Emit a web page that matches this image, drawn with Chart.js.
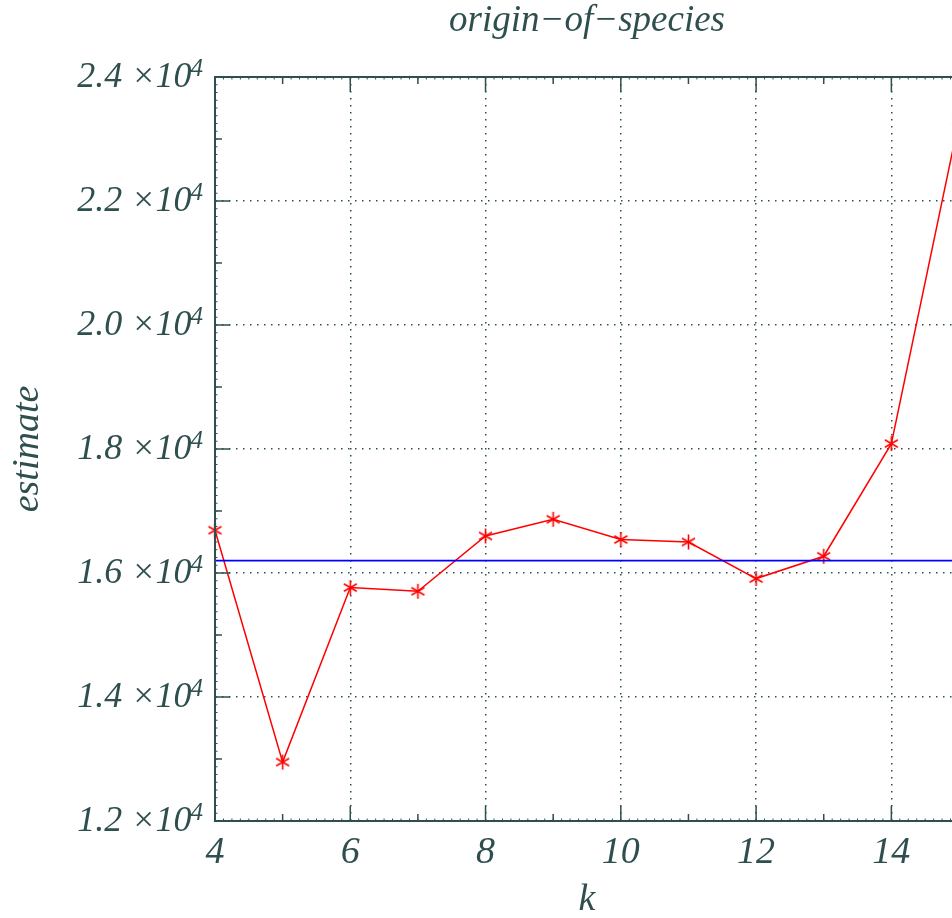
<!DOCTYPE html>
<html>
<head>
<meta charset="utf-8">
<script src="https://cdn.jsdelivr.net/npm/chart.js@4.4.1/dist/chart.umd.min.js"></script>
<style>
  html, body { margin: 0; padding: 0; background: #fff; overflow: hidden; }
  #wrap { width: 1000px; height: 918px; }
</style>
</head>
<body>
<div id="wrap"><canvas id="chart" width="1000" height="918"></canvas></div>
<script>
// origin-of-species : estimate against k (plot runs a little past the window on the right)
const kValues = [4, 5, 6, 7, 8, 9, 10, 11, 12, 13, 14, 15];
const estimates = [16690, 12950, 15765, 15705, 16597, 16866, 16540, 16500, 15910, 16270, 18087, 23300];
const referenceK = [4, 15];
const referenceLevel = [16200, 16200];

const xTicks = [4, 6, 8, 10, 12, 14];
const xTickLabels = ['4', '6', '8', '10', '12', '14'];
const yTicks = [12000, 14000, 16000, 18000, 20000, 22000, 24000];
const yTickMantissa = ['1.2', '1.4', '1.6', '1.8', '2.0', '2.2', '2.4'];
const yTickExponent = '4';

const titleText = 'origin\u2212of\u2212species';
const xTitle = 'k';
const yTitle = 'estimate';

const axisColor = '#2f4f4f';
const serif = '"Liberation Serif", "Times New Roman", serif';

// gnuplot-like six armed asterisk
const makeAsterisk = (r, color) => {
  const c = document.createElement('canvas');
  const s = Math.ceil(r * 2 + 4);
  c.width = s; c.height = s;
  const g = c.getContext('2d');
  g.strokeStyle = color;
  g.lineWidth = 1.6;
  g.translate(s / 2, s / 2);
  for (let i = 0; i < 3; i++) {
    const a = Math.PI / 2 + i * Math.PI / 3;
    g.beginPath();
    g.moveTo(-r * Math.cos(a), -r * Math.sin(a));
    g.lineTo(r * Math.cos(a), r * Math.sin(a));
    g.stroke();
  }
  return c;
};

// frame, tick marks and all the text
const axisFrame = {
  id: 'axisFrame',
  afterDatasetsDraw(chart) {
    const { ctx, chartArea: a, scales: { x, y } } = chart;
    ctx.save();
    ctx.strokeStyle = axisColor;
    ctx.fillStyle = axisColor;

    // minor / medium / major ticks
    const tick = (px, len, w, vertical) => {
      ctx.lineWidth = w;
      ctx.beginPath();
      if (vertical) {
        ctx.moveTo(px, a.bottom); ctx.lineTo(px, a.bottom - len);
        ctx.moveTo(px, a.top); ctx.lineTo(px, a.top + len);
      } else {
        ctx.moveTo(a.left, px); ctx.lineTo(a.left + len, px);
      }
      ctx.stroke();
    };
    for (let v = x.min; v <= x.max + 1e-9; v += 0.125) tick(x.getPixelForValue(v), 2.5, 1, true);
    for (let v = 5; v <= x.max; v += 2) tick(x.getPixelForValue(v), 7, 1.5, true);
    xTicks.forEach(v => tick(x.getPixelForValue(v), 15, 1.5, true));
    for (let v = y.min; v <= y.max + 1e-9; v += 125) tick(y.getPixelForValue(v), 2.5, 1, false);
    for (let v = 13000; v < y.max; v += 2000) tick(y.getPixelForValue(v), 7, 1.5, false);
    yTicks.forEach(v => tick(y.getPixelForValue(v), 15, 1.5, false));

    ctx.lineWidth = 2;
    ctx.strokeRect(a.left, a.top, a.right - a.left, a.bottom - a.top);

    // x tick labels
    ctx.font = 'italic 38px ' + serif;
    ctx.textAlign = 'center';
    ctx.textBaseline = 'alphabetic';
    xTicks.forEach((v, i) => ctx.fillText(xTickLabels[i], x.getPixelForValue(v), 863));

    // y tick labels: mantissa ×10 with superscript exponent
    yTicks.forEach((v, i) => {
      const py = y.getPixelForValue(v);
      ctx.font = 'italic 25px ' + serif;
      const supW = ctx.measureText(yTickExponent).width;
      ctx.textAlign = 'right';
      ctx.fillText(yTickExponent, 203, py - 1);
      ctx.font = 'italic 36px ' + serif;
      ctx.fillText(yTickMantissa[i] + ' \u00d710', 203 - supW + 1, py + 10);
    });

    // titles
    const cx = (a.left + a.right) / 2;
    ctx.textAlign = 'center';
    ctx.font = 'italic 37px ' + serif;
    ctx.fillText(titleText, cx, 31);
    ctx.font = 'italic 38px ' + serif;
    ctx.fillText(xTitle, cx, 910);
    ctx.translate(38, (a.top + a.bottom) / 2);
    ctx.rotate(-Math.PI / 2);
    ctx.fillText(yTitle, 0, 0);
    ctx.restore();
  }
};

const ctx = document.getElementById('chart').getContext('2d');
new Chart(ctx, {
  type: 'line',
  data: {
    datasets: [
      {
        label: 'reference',
        data: referenceK.map((k, i) => ({ x: k, y: referenceLevel[i] })),
        borderColor: '#0000ff',
        borderWidth: 1.8,
        pointRadius: 0,
        clip: false
      },
      {
        label: 'estimate',
        data: kValues.map((k, i) => ({ x: k, y: estimates[i] })),
        borderColor: '#ff0000',
        borderWidth: 1.5,
        pointStyle: makeAsterisk(7.5, '#ff0000'),
        pointRadius: 7,
        tension: 0,
        clip: false
      }
    ]
  },
  options: {
    responsive: false,
    devicePixelRatio: 1,
    animation: false,
    layout: { padding: { left: 215, top: 77, right: 41, bottom: 97 } },
    plugins: { legend: { display: false }, tooltip: { enabled: false } },
    scales: {
      x: {
        type: 'linear',
        min: 4,
        max: 15,
        afterBuildTicks: s => { s.ticks = xTicks.map(v => ({ value: v })); },
        afterFit: s => { s.height = 0; },
        ticks: { display: false },
        grid: { color: axisColor, lineWidth: 1.5, drawTicks: false },
        border: { display: false, dash: [1.5, 5.5] }
      },
      y: {
        type: 'linear',
        min: 12000,
        max: 24000,
        afterBuildTicks: s => { s.ticks = yTicks.map(v => ({ value: v })); },
        afterFit: s => { s.width = 0; },
        ticks: { display: false },
        grid: { color: axisColor, lineWidth: 1.5, drawTicks: false },
        border: { display: false, dash: [1.5, 5.5] }
      }
    }
  },
  plugins: [axisFrame]
});
</script>
</body>
</html>
